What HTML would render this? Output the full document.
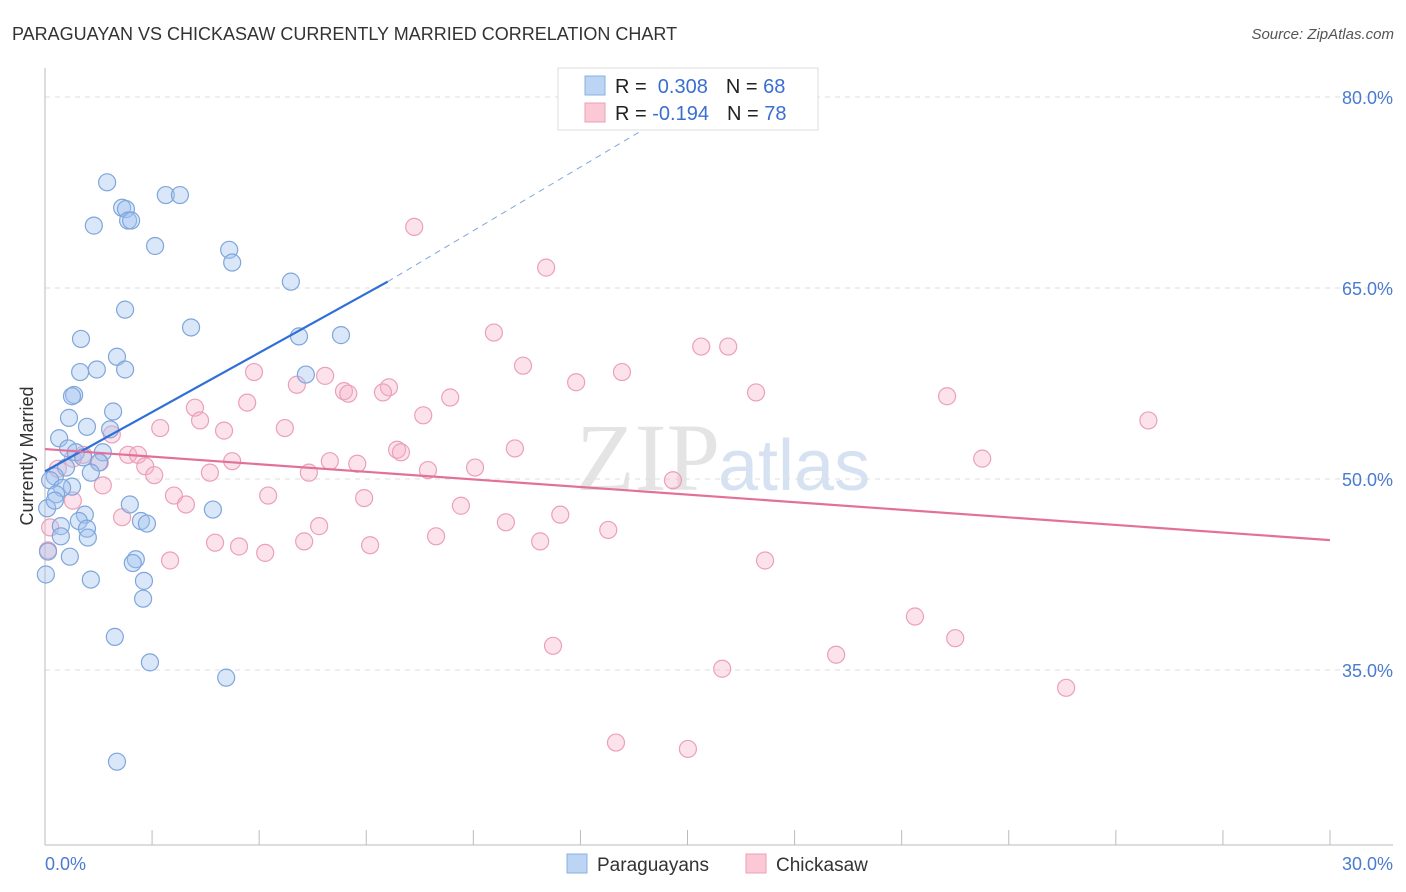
<!DOCTYPE html>
<html><head><meta charset="utf-8"><style>
body{margin:0;background:#fff;font-family:"Liberation Sans",sans-serif;}
svg{display:block}
</style></head><body>
<svg id="chart" width="1406" height="892" xmlns="http://www.w3.org/2000/svg">
<text x="12" y="40" font-size="18" fill="#333">PARAGUAYAN VS CHICKASAW CURRENTLY MARRIED CORRELATION CHART</text>
<text x="1394" y="39" font-size="15" fill="#555" text-anchor="end" font-style="italic">Source: ZipAtlas.com</text>
<text x="720" y="490" font-size="96" fill="#e4e4e4" text-anchor="end" font-family="Liberation Serif,serif">ZIP</text>
<text x="718" y="490" font-size="72" fill="#d6e2f2">atlas</text>
<g id="grid"></g>
<g id="axes"></g>
<g id="marks"></g>
<text x="33" y="456" font-size="18" fill="#333" text-anchor="middle" transform="rotate(-90 33 456)">Currently Married</text>
<g>
<rect x="558" y="68" width="260" height="62" fill="#fff" stroke="#ddd"/>
<rect x="585" y="76" width="20" height="19" fill="#bcd5f5" stroke="#8ab0e0"/>
<rect x="585" y="103" width="20" height="19" fill="#fbc9d6" stroke="#eba0b8"/>
<text x="615" y="93" font-size="20" fill="#222">R = <tspan fill="#3a6fd0">&#160;0.308</tspan><tspan dx="18">N = </tspan><tspan fill="#3a6fd0">68</tspan></text>
<text x="615" y="120" font-size="20" fill="#222">R = <tspan fill="#3a6fd0">-0.194</tspan><tspan dx="18">N = </tspan><tspan fill="#3a6fd0">78</tspan></text>
</g>
<g>
<rect x="567" y="854" width="20" height="19" fill="#bcd5f5" stroke="#8ab0e0"/>
<text x="597" y="871" font-size="19" fill="#333">Paraguayans</text>
<rect x="746" y="854" width="20" height="19" fill="#fbc9d6" stroke="#eba0b8"/>
<text x="776" y="871" font-size="19" fill="#333">Chickasaw</text>
</g>
</svg>
<script>
const yTicks=[80,65,50,35];
const xTickLabels=["0.0%","30.0%"];
const blueX=[1.45,2.82,3.15,1.80,1.89,1.94,2.01,1.14,2.57,4.30,4.37,5.74,1.87,3.41,0.84,5.93,6.91,1.68,1.21,1.87,0.82,6.09,0.68,0.63,1.59,0.56,0.98,1.52,0.33,0.54,0.72,1.35,0.89,1.26,0.49,1.07,0.23,0.12,0.63,0.40,0.26,0.05,1.98,3.92,0.93,0.79,2.24,2.38,0.37,0.98,0.37,1.00,0.58,2.12,2.05,2.31,1.07,0.02,2.29,1.63,2.45,4.23,1.68,0.07,0.23];
const blueY=[73.3,72.3,72.3,71.3,71.2,70.3,70.3,69.9,68.3,68.0,67.0,65.5,63.3,61.9,61.0,61.2,61.3,59.6,58.6,58.6,58.4,58.2,56.6,56.5,55.3,54.8,54.1,53.9,53.2,52.4,52.1,52.1,51.7,51.3,50.9,50.5,50.2,49.9,49.4,49.3,48.8,47.7,48.0,47.6,47.2,46.7,46.7,46.5,46.3,46.1,45.5,45.4,43.9,43.7,43.4,42.0,42.1,42.5,40.6,37.6,35.6,34.4,27.8,44.3,48.3];
const pinkX=[8.62,11.70,10.48,15.32,15.95,11.16,4.88,13.47,12.40,5.88,6.54,6.98,7.08,8.03,7.89,16.60,21.06,9.46,4.72,3.50,8.83,3.62,25.76,2.69,4.18,5.60,1.56,10.97,8.22,8.31,1.94,2.17,0.89,4.37,6.65,7.29,21.88,2.34,8.94,10.04,2.55,3.85,6.16,0.30,1.28,14.66,1.35,0.65,3.01,5.21,7.45,3.29,9.71,1.80,10.76,12.03,6.40,13.15,9.13,3.97,11.56,6.05,4.53,7.59,5.14,2.92,16.81,11.86,20.31,21.25,18.47,15.81,23.84,13.33,15.01,0.65,0.12,0.07];
const pinkY=[69.8,66.6,61.5,60.4,60.4,58.9,58.4,58.4,57.6,57.4,58.1,56.9,56.7,57.2,56.8,56.8,56.5,56.4,56.0,55.6,55.0,54.6,54.6,54.0,53.8,54.0,53.5,52.4,52.3,52.1,51.9,51.9,51.9,51.4,51.4,51.2,51.6,51.0,50.7,50.9,50.3,50.5,50.5,50.8,51.3,49.9,49.5,48.3,48.7,48.7,48.5,48.0,47.9,47.0,46.6,47.2,46.3,46.0,45.5,45.0,45.1,45.1,44.7,44.8,44.2,43.6,43.6,36.9,39.2,37.5,36.2,35.1,33.6,29.3,28.8,51.6,46.2,44.4];
const blueTrend=[50.6,65.5,77.9]; // at x=0, 8, 14.2
const blueTrendX=[0,8,14.2];
const pinkTrend=[52.35,45.2];
const pinkTrendX=[0,30];

const NS="http://www.w3.org/2000/svg";
const X0=45,X1=1330,YTOP=97,YSTEP=191/15;
function xs(v){return X0+(v/30)*(X1-X0);}
function ys(v){return YTOP+(80-v)*YSTEP;}
function mk(tag,attrs,parent){const e=document.createElementNS(NS,tag);for(const k in attrs)e.setAttribute(k,attrs[k]);parent.appendChild(e);return e;}
const grid=document.getElementById('grid'),axes=document.getElementById('axes'),marks=document.getElementById('marks');
yTicks.forEach(t=>{
 const l=mk('line',{x1:X0,x2:1393,y1:ys(t),y2:ys(t),stroke:'#ddd','stroke-dasharray':'5,5'},grid);
 
 
 const tx=mk('text',{x:1393,y:ys(t)+7,'font-size':18,fill:'#4a7bd0','text-anchor':'end'},grid);
 tx.textContent=t.toFixed(1)+'%';
 
 
});
const ax=mk('line',{x1:X0,x2:X0,y1:68,y2:845,stroke:'#bbb'},axes);


const bx=mk('line',{x1:X0,x2:1393,y1:845,y2:845,stroke:'#bbb'},axes);


for(let i=0;i<=12;i++){
 const t=mk('line',{x1:xs(i*2.5),x2:xs(i*2.5),y1:830,y2:845,stroke:'#bbb'},axes);
 
 
}
[[0,'start',45],[1,'end',1393]].forEach(([i,a,x])=>{
 const t=mk('text',{x:x,y:870,'font-size':18,fill:'#4a7bd0','text-anchor':a},axes);
 t.textContent=xTickLabels[i];
 
 
});
pinkX.forEach((x,i)=>{
 const c=mk('circle',{cx:xs(x),cy:ys(pinkY[i]),r:8.5,fill:'rgba(246,176,198,0.35)',stroke:'#eba0b8','stroke-width':1.2},marks);
 
 
});
blueX.forEach((x,i)=>{
 const c=mk('circle',{cx:xs(x),cy:ys(blueY[i]),r:8.5,fill:'rgba(160,195,240,0.4)',stroke:'#7fa6dc','stroke-width':1.2},marks);
 
 
});
const bl=mk('line',{x1:xs(blueTrendX[0]),y1:ys(blueTrend[0]),x2:xs(blueTrendX[1]),y2:ys(blueTrend[1]),stroke:'#2f6fd6','stroke-width':2.2},marks);


const bd=mk('line',{x1:xs(blueTrendX[1]),y1:ys(blueTrend[1]),x2:xs(blueTrendX[2]),y2:ys(blueTrend[2]),stroke:'#7fa6dc','stroke-width':1,'stroke-dasharray':'6,5'},marks);


const pl=mk('line',{x1:xs(pinkTrendX[0]),y1:ys(pinkTrend[0]),x2:xs(pinkTrendX[1]),y2:ys(pinkTrend[1]),stroke:'#e2709a','stroke-width':2.2},marks);


</script>
</body></html>
